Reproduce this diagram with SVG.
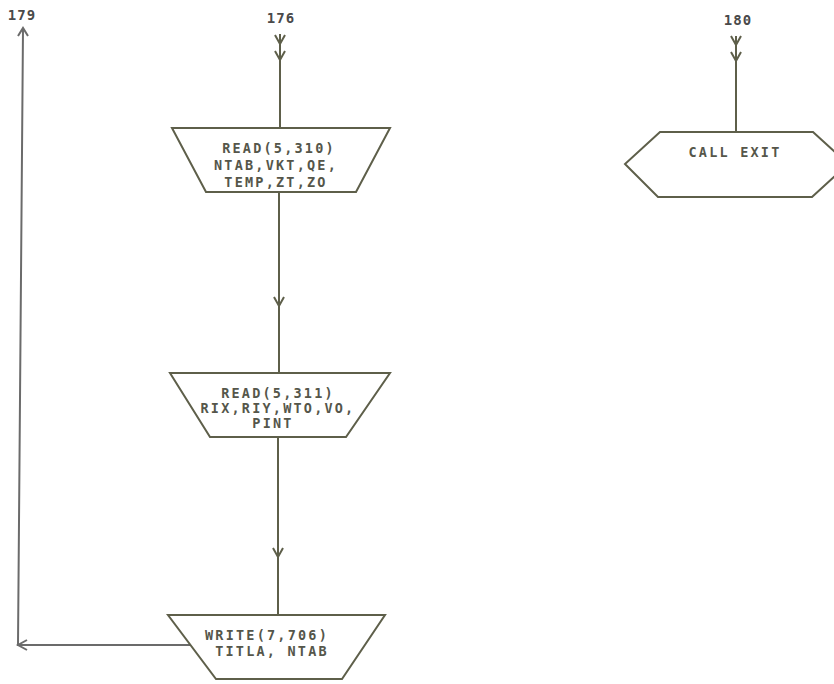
<svg xmlns="http://www.w3.org/2000/svg" xmlns:xlink="http://www.w3.org/1999/xlink" width="834" height="684" viewBox="0 0 834 684">
<style>
.ln{fill:none;stroke:#5e5f4a;stroke-width:2;stroke-linejoin:miter}
.gl{fill:none;stroke:#6b6b6b;stroke-width:2}
.box{fill:#fff;stroke:#5e5f4a;stroke-width:2}
.t{font-family:"DejaVu Sans Mono","Liberation Mono",monospace;font-weight:bold;font-size:13.5px;letter-spacing:2.2px;fill:#55564a;text-anchor:middle}
.lb{font-family:"DejaVu Sans Mono","Liberation Mono",monospace;font-weight:bold;font-size:14px;letter-spacing:1px;fill:#4a4a4a;text-anchor:middle}
</style>
<defs>
<path id="chev" d="M-5,-9 L0,0 L5,-9" fill="none" stroke="#5e5f4a" stroke-width="2"/>
</defs>
<rect width="834" height="684" fill="#fff"/>
<g id="connectors">
<path class="gl" d="M190,645 L18,645 L23,29"/>
<path class="gl" d="M18,36 L23,28 L28,36"/>
<path class="gl" d="M27,640 L18,645 L27,650"/>
<path class="ln" d="M280,34 L280,128"/>
<use xlink:href="#chev" x="280" y="44"/>
<use xlink:href="#chev" x="280" y="60"/>
<path class="ln" d="M279,191 L279,373"/>
<use xlink:href="#chev" x="279" y="306"/>
<path class="ln" d="M278,437 L278,615"/>
<use xlink:href="#chev" x="278" y="557"/>
<path class="ln" d="M736,36 L736,132"/>
<use xlink:href="#chev" x="736" y="45"/>
<use xlink:href="#chev" x="736" y="61"/>
</g>
<g id="label179"><text class="lb" x="22" y="20">179</text></g>
<g id="label176"><text class="lb" x="281" y="23">176</text></g>
<g id="label180"><text class="lb" x="738" y="25">180</text></g>
<g id="read310">
<polygon class="box" points="172,128 390,128 356,192 206,192"/>
<text class="t" x="279" y="153">READ(5,310)</text>
<text class="t" x="276" y="170">NTAB,VKT,QE,</text>
<text class="t" x="276" y="187">TEMP,ZT,ZO</text>
</g>
<g id="read311">
<polygon class="box" points="170,373 390,373 346,437 210,437"/>
<text class="t" x="278" y="398">READ(5,311)</text>
<text class="t" x="278" y="413">RIX,RIY,WTO,VO,</text>
<text class="t" x="273" y="428">PINT</text>
</g>
<g id="write706">
<polygon class="box" points="168,615 385,615 342,679 216,679"/>
<text class="t" x="267" y="640">WRITE(7,706)</text>
<text class="t" x="272" y="656">TITLA, NTAB</text>
</g>
<g id="callexit">
<polygon class="box" points="660,132 813,132 848,164 812,197 658,197 625,164"/>
<text class="t" x="735" y="157">CALL EXIT</text>
</g>
</svg>
